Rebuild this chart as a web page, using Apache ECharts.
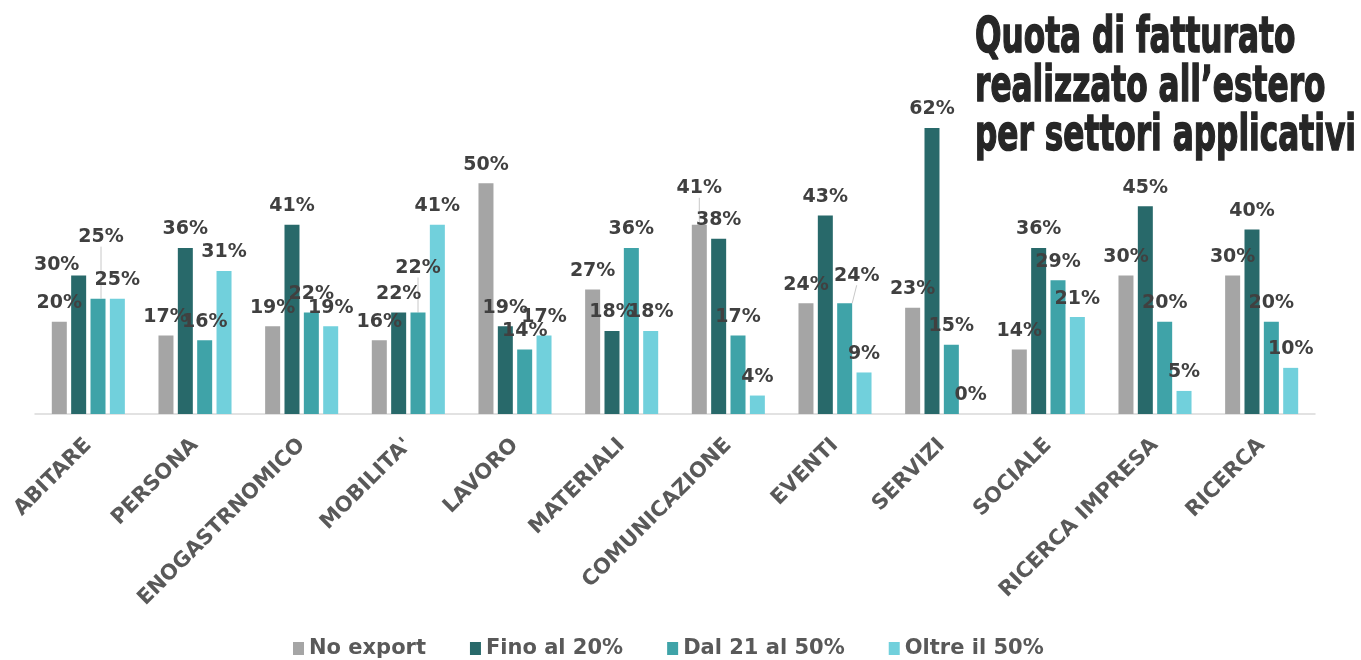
<!DOCTYPE html>
<html>
<head>
<meta charset="utf-8">
<script src="https://cdn.jsdelivr.net/npm/echarts@6/dist/echarts.min.js"></script>
<style>
  html, body { margin: 0; padding: 0; background: #fff; }
  #chart { width: 1361px; height: 660px; }
</style>
</head>
<body>
<div id="chart"></div>
<script>
var settori = ['ABITARE', 'PERSONA', 'ENOGASTRNOMICO', "MOBILITA'", 'LAVORO', 'MATERIALI',
  'COMUNICAZIONE', 'EVENTI', 'SERVIZI', 'SOCIALE', 'RICERCA IMPRESA', 'RICERCA'];
var serieNomi = ['No export', 'Fino al 20%', 'Dal 21 al 50%', 'Oltre il 50%'];
var noExport = [20, 17, 19, 16, 50, 27, 41, 24, 23, 14, 30, 30];
var finoAl20 = [30, 36, 41, 22, 19, 18, 38, 43, 62, 36, 45, 40];
var dal21al50 = [25, 16, 22, 22, 14, 36, 17, 24, 15, 29, 20, 20];
var oltre50 = [25, 31, 19, 41, 17, 18, 4, 9, 0, 21, 5, 10];
var colori = ['#a5a5a5', '#28696a', '#3fa3a8', '#71d0dc'];

// etichette spostate a mano (serie-categoria: [dx, dy, linea guida])
var spostamenti = {
    '1-0': [-22, 8, false],
    '2-0': [3, -43, true],
    '2-3': [0, -26, true],
    '0-6': [0, -18, true],
    '2-7': [12, -9, true]
};

var myChart = echarts.init(document.getElementById('chart'));

var valori = [noExport, finoAl20, dal21al50, oltre50];
var seriesList = [];
valori.forEach(function (dati, i) {
    seriesList.push({
        type: 'bar',
        name: serieNomi[i],
        data: dati.map(function (v, j) {
            var s = spostamenti[i + '-' + j];
            if (s && s[2]) {
                return { value: v, labelLine: { show: true } };
            }
            return v;
        }),
        barWidth: 15,
        barGap: '29%',
        itemStyle: { color: colori[i] },
        label: {
            show: true,
            position: 'top',
            distance: 9,
            formatter: '{c}%',
            color: '#404040',
            fontFamily: 'DejaVu Sans',
            fontWeight: 'bold',
            fontSize: 19
        },
        labelLine: {
            show: false,
            lineStyle: { color: '#c8c8c8', width: 1 }
        },
        labelLayout: function (params) {
            var s = spostamenti[params.seriesIndex + '-' + params.dataIndex];
            if (s) {
                return { dx: s[0], dy: s[1] };
            }
            return {};
        }
    });
});

var option = {
    animation: false,
    grid: { left: 35, right: 46, top: 91, bottom: 246 },
    legend: {
        bottom: 1,
        left: 293,
        padding: 0,
        itemWidth: 11,
        itemHeight: 13,
        itemGap: 44,
        icon: 'rect',
        textStyle: {
            color: '#595959',
            fontFamily: 'DejaVu Sans',
            fontWeight: 'bold',
            fontSize: 21
        },
        data: serieNomi
    },
    graphic: [{
        type: 'text',
        x: 975,
        y: 14,
        scaleX: 0.65,
        scaleY: 1.05,
        style: {
            text: 'Quota di fatturato\nrealizzato all\u2019estero\nper settori applicativi',
            font: 'bold 48px "DejaVu Sans"',
            lineHeight: 47,
            fill: '#262626',
            stroke: '#262626',
            lineWidth: 1.5,
            textVerticalAlign: 'top'
        }
    }],
    xAxis: {
        type: 'category',
        data: settori,
        axisTick: { show: false },
        axisLine: { lineStyle: { color: '#d9d9d9', width: 1.5 } },
        axisLabel: {
            interval: 0,
            rotate: 45,
            margin: 28,
            color: '#595959',
            fontFamily: 'DejaVu Sans',
            fontWeight: 'bold',
            fontSize: 21
        }
    },
    yAxis: {
        type: 'value',
        min: 0,
        max: 70,
        show: false
    },
    series: seriesList
};
myChart.setOption(option);
</script>
</body>
</html>
